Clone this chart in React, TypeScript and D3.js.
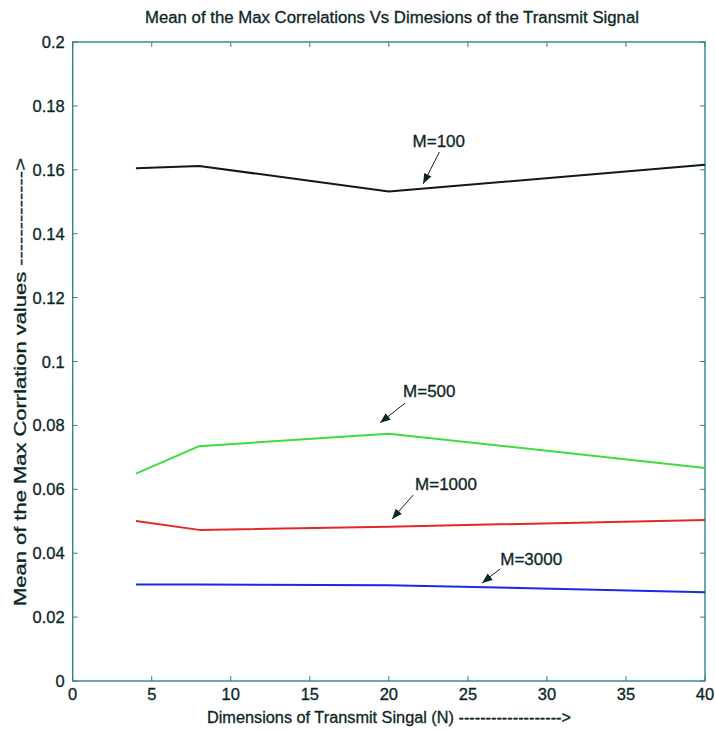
import React from "react";
import * as d3 from "d3";

// Transmit-signal dimensions (N)
const dims = [4, 8, 20, 40];

// Mean of max correlation values per number of signals M
const m100 = [0.1605, 0.1612, 0.1532, 0.1616];
const m500 = [0.0649, 0.0735, 0.0774, 0.0667];
const m1000 = [0.0501, 0.0473, 0.0483, 0.0504];
const m3000 = [0.0302, 0.0302, 0.03, 0.0278];

const seriesNames = ["M=100", "M=500", "M=1000", "M=3000"];
const seriesColors = ["#101818", "#3fdc3f", "#e02828", "#1a28e8"];

const xTicks = [0, 5, 10, 15, 20, 25, 30, 35, 40];
const yTicks = [0, 0.02, 0.04, 0.06, 0.08, 0.1, 0.12, 0.14, 0.16, 0.18, 0.2];

// Annotations in data coords: label baseline start, arrow tail, arrow tip
const annoLabel: [number, number][] = [
  [21.5, 0.1671],
  [20.9, 0.0889],
  [21.66, 0.0598],
  [27.05, 0.0363],
];
const annoTail: [number, number][] = [
  [23.2, 0.1656],
  [21.03, 0.087],
  [21.54, 0.0582],
  [27.05, 0.0351],
];
const annoTip: [number, number][] = [
  [22.17, 0.1556],
  [19.45, 0.0808],
  [20.2, 0.0507],
  [25.9, 0.0307],
];

const W = 715;
const H = 731;
const M = { left: 72.7, right: 10, top: 42, bottom: 50 };

export default function App() {
  const x = d3.scaleLinear().domain([0, 40]).range([M.left, W - M.right]);
  const y = d3.scaleLinear().domain([0, 0.2]).range([H - M.bottom, M.top]);
  const line = d3
    .line<[number, number]>()
    .x((d) => x(d[0]))
    .y((d) => y(d[1]));
  const all = [m100, m500, m1000, m3000];
  const axisColor = "#2f8486";
  const textColor = "#0c2626";
  const font = "'Liberation Sans', Arial, sans-serif";
  const x0 = x(0), x1 = x(40), y0 = y(0), y1 = y(0.2);
  const tl = 5;
  const txt = { fill: textColor, stroke: textColor, strokeWidth: 0.3 };

  return (
    <svg width={W} height={H} style={{ position: "absolute", left: 0, top: 0 }} fontFamily={font}>
      <rect width={W} height={H} fill="#fff" />
      <text x={392} y={23} textAnchor="middle" fontSize={16} {...txt} textLength={494} lengthAdjust="spacingAndGlyphs">
        Mean of the Max Correlations Vs Dimesions of the Transmit Signal
      </text>

      {/* ticks on all four sides */}
      {xTicks.map((t) => (
        <g key={"xt" + t} stroke={axisColor} strokeWidth={1}>
          <line x1={x(t)} x2={x(t)} y1={y0} y2={y0 - tl} />
          <line x1={x(t)} x2={x(t)} y1={y1} y2={y1 + tl} />
        </g>
      ))}
      {yTicks.map((t) => (
        <g key={"yt" + t} stroke={axisColor} strokeWidth={1}>
          <line x1={x0} x2={x0 + tl} y1={y(t)} y2={y(t)} />
          <line x1={x1} x2={x1 - tl} y1={y(t)} y2={y(t)} />
        </g>
      ))}
      <rect x={x0} y={y1} width={x1 - x0} height={y0 - y1} fill="none" stroke={axisColor} strokeWidth={1.4} />

      {xTicks.map((t) => (
        <text key={"xl" + t} x={x(t)} y={y0 + 19} textAnchor="middle" fontSize={16.5} {...txt}>
          {t}
        </text>
      ))}
      {yTicks.map((t) => (
        <text key={"yl" + t} x={x0 - 8} y={y(t) + 6} textAnchor="end" fontSize={16.5} {...txt}>
          {String(+t.toFixed(2))}
        </text>
      ))}

      <text x={389} y={723} textAnchor="middle" fontSize={16} {...txt} textLength={364} lengthAdjust="spacingAndGlyphs">
        Dimensions of Transmit Singal (N) -------------------&gt;
      </text>
      <text
        transform="translate(26,382) rotate(-90)"
        textAnchor="middle"
        fontSize={16}
        {...txt}
        textLength={448}
        lengthAdjust="spacingAndGlyphs"
      >
        Mean of the Max Corrlation values -------------&gt;
      </text>

      {all.map((vals, i) => (
        <path
          key={seriesNames[i]}
          d={line(dims.map((d, j) => [d, vals[j]] as [number, number])) || ""}
          fill="none"
          stroke={seriesColors[i]}
          strokeWidth={2}
          strokeLinejoin="round"
        />
      ))}

      {seriesNames.map((name, i) => {
        const tx = x(annoTip[i][0]);
        const ty = y(annoTip[i][1]);
        const sx = x(annoTail[i][0]);
        const sy = y(annoTail[i][1]);
        const lx = x(annoLabel[i][0]);
        const ly = y(annoLabel[i][1]);
        const ang = Math.atan2(ty - sy, tx - sx);
        const ah = 11;
        const aw = 0.38;
        const p1 = [tx - ah * Math.cos(ang - aw), ty - ah * Math.sin(ang - aw)];
        const p2 = [tx - ah * Math.cos(ang + aw), ty - ah * Math.sin(ang + aw)];
        return (
          <g key={"a" + name}>
            <line x1={sx} y1={sy} x2={tx} y2={ty} stroke={textColor} strokeWidth={1} />
            <path d={`M${tx},${ty}L${p1[0]},${p1[1]}L${p2[0]},${p2[1]}Z`} fill={textColor} />
            <text x={lx} y={ly} fontSize={17} {...txt}>
              {name}
            </text>
          </g>
        );
      })}
    </svg>
  );
}
